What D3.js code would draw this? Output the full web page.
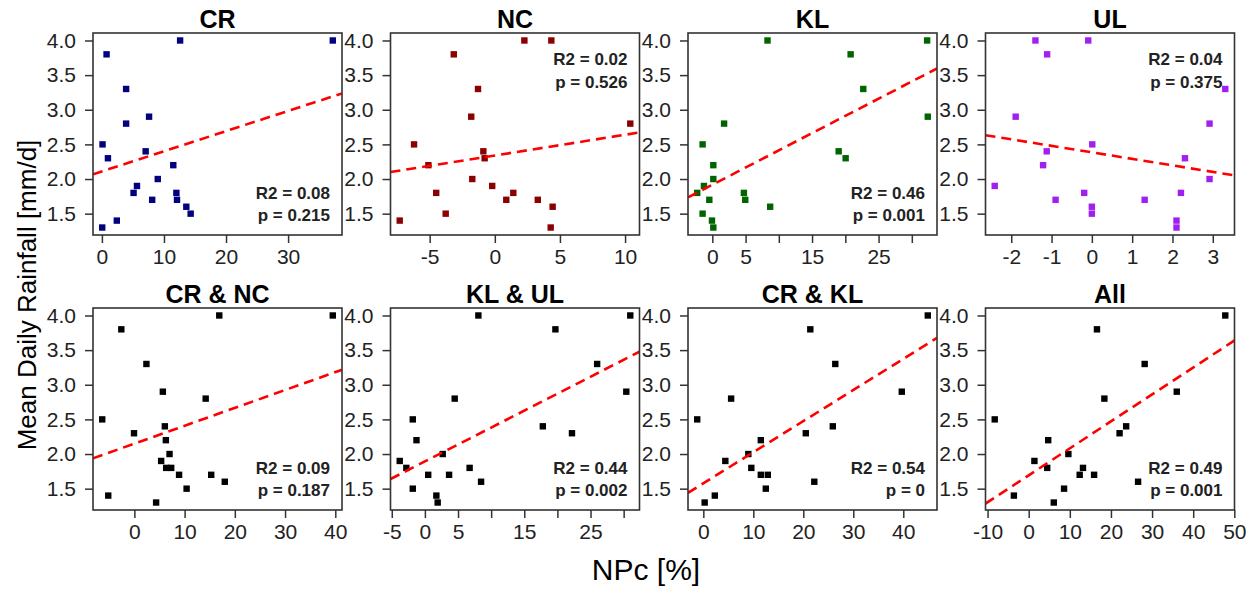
<!DOCTYPE html>
<html>
<head>
<meta charset="utf-8">
<script src="https://cdn.jsdelivr.net/npm/d3@7"></script>
<style>
  body { margin: 0; background: #fff; }
  svg { display: block; font-family: Arial, "Liberation Sans", sans-serif; }
</style>
</head>
<body>
<svg id="chart" width="1251" height="590"></svg>
<script>
// mean daily rainfall [mm/d], one value per year, sorted high -> low
const rain20 = [4.0, 4.0, 3.8, 3.3, 2.9, 2.8, 2.5, 2.4, 2.3, 2.2, 2.0, 1.9, 1.8, 1.8, 1.7, 1.7, 1.6, 1.5, 1.4, 1.3];
const rain19 = [4.0, 3.8, 3.3, 2.9, 2.8, 2.5, 2.4, 2.3, 2.2, 2.0, 1.9, 1.8, 1.8, 1.7, 1.7, 1.6, 1.5, 1.4, 1.3];
const rain18 = [4.0, 3.8, 3.3, 2.9, 2.8, 2.5, 2.4, 2.3, 2.2, 2.0, 1.9, 1.8, 1.7, 1.7, 1.6, 1.5, 1.4, 1.3];

// NPc [%] for each panel, same order as the rainfall arrays
const npcCR   = [12.6, 37.2, 0.75, 3.9, 7.6, 3.9, 0.1, 7.05, 0.97, 11.5, 9.0, 5.65, 5.1, 12.0, 8.1, 12.1, 13.6, 14.3, 2.4, 0.05];
const npcNC   = [2.27, 4.34, -3.15, -1.29, -1.81, 10.4, -6.2, -0.88, -0.78, -5.1, -1.73, -0.2, -4.5, 1.42, 0.88, 3.3, 4.44, -3.77, -7.3, 4.29];
const npcKL   = [8.3, 32.3, 20.8, 22.7, 32.4, 1.77, -1.46, 19.0, 20.05, 0.15, 0.15, -1.26, -2.27, 4.75, -0.45, 4.95, 8.7, -1.46, -0.05, 0.15];
const npcUL   = [-1.4, -0.09, -1.11, 3.31, -1.89, 2.92, 0.01, -1.12, 2.31, -1.21, 2.92, -2.41, -0.19, 2.21, -0.9, 1.31, 0, 0, 2.1, 2.1];
const npcCRNC = [16.9, 39.5, -2.6, 2.4, 5.67, 14.2, -6.4, 6.07, -0.07, 6.27, 7.0, 5.33, 6.33, 7.33, 8.9, 15.3, 18.0, 10.4, -5.2, 4.33];
const npcKLUL = [8.07, 31.0, 19.7, 26.0, 30.4, 4.5, -1.83, 17.8, 22.2, -1.27, 2.69, -3.8, -2.8, 6.75, 0.5, 3.65, 8.48, -1.83, 1.73, 1.93];
const npcCRKL = [44.9, 21.4, 26.4, 39.7, 5.56, -1.22, 25.9, 20.5, 11.5, 9.0, 4.4, 9.6, 11.5, 12.9, 22.2, 12.5, 2.3, 0.27];
const npcAll  = [47.8, 16.6, 28.2, 36.0, 18.4, -8.26, 23.7, 22.1, 4.74, 9.65, 1.39, 4.5, 13.2, 12.4, 15.9, 26.6, 8.6, -3.6, 6.1];

const panelTitles = ['CR', 'NC', 'KL', 'UL', 'CR & NC', 'KL & UL', 'CR & KL', 'All'];
const panelX = [npcCR, npcNC, npcKL, npcUL, npcCRNC, npcKLUL, npcCRKL, npcAll];
const panelY = [rain20, rain20, rain20, rain20, rain20, rain20, rain18, rain19];
const panelColors = ['#000080', '#8b0000', '#006400', '#a020f0', '#000', '#000', '#000', '#000'];

// fitted regression lines: rain = intercept + slope * npc
const fitIntercept = [2.11, 2.34, 1.917, 2.385, 2.15, 1.893, 1.577, 1.693];
const fitSlope     = [0.0291, 0.0299, 0.0497, -0.094, 0.0258, 0.0489, 0.0449, 0.0389];

const statR2 = ['0.08', '0.02', '0.46', '0.04', '0.09', '0.44', '0.54', '0.49'];
const statP  = ['0.215', '0.526', '0.001', '0.375', '0.187', '0.002', '0', '0.001'];
const statCorner = ['bottom', 'top', 'bottom', 'top', 'bottom', 'bottom', 'bottom', 'bottom'];

const xTicks = [
  [0, 10, 20, 30], [-5, 0, 5, 10], [0, 5, 10, 15, 20, 25, 30], [-2, -1, 0, 1, 2, 3],
  [0, 10, 20, 30, 40], [-5, 0, 5, 10, 15, 20, 25, 30], [0, 10, 20, 30, 40], [-10, 0, 10, 20, 30, 40, 50]
];
const xTickLabels = [
  [0, 10, 20, 30], [-5, 0, 5, 10], [0, 5, 15, 25], [-2, -1, 0, 1, 2, 3],
  [0, 10, 20, 30, 40], [-5, 0, 5, 15, 25], [0, 10, 20, 30, 40], [-10, 0, 10, 20, 30, 40, 50]
];
const yTicks = [1.5, 2.0, 2.5, 3.0, 3.5, 4.0];

// layout
const boxLeft0 = 93, colPitch = 297.5, boxW = 249, boxH = 202;
const rowTops = [33, 308];
const tickLen = 8;
const inkColor = '#222';

const svg = d3.select('#chart');

// R-style axis range: data extent padded by 4%
const padExtent = vals => {
  const [lo, hi] = d3.extent(vals);
  const pad = (hi - lo) * 0.04;
  return [lo - pad, hi + pad];
};

panelTitles.forEach((title, i) => {
  const col = i % 4, row = Math.floor(i / 4);
  const x0 = boxLeft0 + col * colPitch, y0 = rowTops[row];
  const g = svg.append('g').attr('transform', `translate(${x0},${y0})`);

  const xs = panelX[i], ys = panelY[i];
  const xScale = d3.scaleLinear().domain(padExtent(xs)).range([0, boxW]);
  const yScale = d3.scaleLinear().domain(padExtent(ys)).range([boxH, 0]);

  const clipId = `clip-${i}`;
  g.append('clipPath').attr('id', clipId)
    .append('rect').attr('width', boxW).attr('height', boxH);

  // points
  g.append('g').selectAll('rect')
    .data(xs.map((x, k) => ({ x, y: ys[k] })))
    .join('rect')
    .attr('x', d => xScale(d.x) - 3.2)
    .attr('y', d => yScale(d.y) - 3.2)
    .attr('width', 6.4)
    .attr('height', 6.4)
    .attr('fill', panelColors[i]);

  // regression line across the whole plot region
  const [dx0, dx1] = xScale.domain();
  g.append('line')
    .attr('clip-path', `url(#${clipId})`)
    .attr('x1', xScale(dx0)).attr('y1', yScale(fitIntercept[i] + fitSlope[i] * dx0))
    .attr('x2', xScale(dx1)).attr('y2', yScale(fitIntercept[i] + fitSlope[i] * dx1))
    .attr('stroke', '#ff0000')
    .attr('stroke-width', 2.6)
    .attr('stroke-dasharray', '10 6');

  // axes
  const xAxis = g.append('g')
    .attr('transform', `translate(0,${boxH})`)
    .call(d3.axisBottom(xScale).tickValues(xTicks[i]).tickSize(tickLen).tickPadding(6)
      .tickFormat(v => xTickLabels[i].includes(v) ? String(v) : ''));
  const yAxis = g.append('g')
    .call(d3.axisLeft(yScale).tickValues(yTicks).tickSize(tickLen).tickPadding(9)
      .tickFormat(d3.format('.1f')));

  [xAxis, yAxis].forEach(ax => {
    ax.select('.domain').remove();
    ax.selectAll('line').attr('stroke', '#333').attr('stroke-width', 1.5);
    ax.selectAll('text').attr('fill', inkColor).style('font-size', '21px');
  });
  xAxis.selectAll('text').attr('dy', '0.72em');

  // box
  g.append('rect')
    .attr('width', boxW).attr('height', boxH)
    .attr('fill', 'none').attr('stroke', '#333').attr('stroke-width', 1.6);

  // title
  g.append('text')
    .attr('x', boxW / 2).attr('y', -5)
    .attr('text-anchor', 'middle')
    .style('font-size', '25px').style('font-weight', 'bold')
    .attr('fill', '#000')
    .text(title);

  // stats
  const statY = statCorner[i] === 'top' ? [32, 55] : [boxH - 36, boxH - 14];
  [`R2 = ${statR2[i]}`, `p = ${statP[i]}`].forEach((t, k) => {
    g.append('text')
      .attr('x', boxW - 12).attr('y', statY[k])
      .attr('text-anchor', 'end')
      .style('font-size', '17px').style('font-weight', 'bold')
      .attr('fill', inkColor)
      .text(t);
  });
});

// shared axis titles
svg.append('text')
  .attr('transform', 'translate(36,295) rotate(-90)')
  .attr('text-anchor', 'middle')
  .style('font-size', '26px')
  .attr('fill', '#000')
  .text('Mean Daily Rainfall [mm/d]');

svg.append('text')
  .attr('x', 646).attr('y', 580)
  .attr('text-anchor', 'middle')
  .style('font-size', '30px')
  .attr('fill', '#000')
  .text('NPc [%]');
</script>
</body>
</html>
